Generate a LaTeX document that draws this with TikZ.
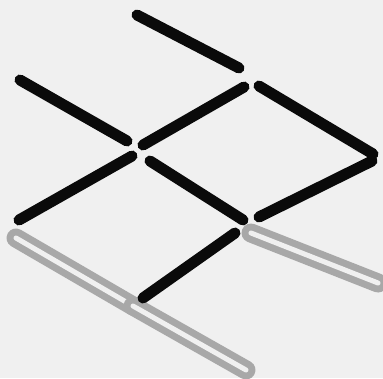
\documentclass[tikz,border=0pt]{standalone}
\usepackage{tikz}
\usepackage{xcolor}
\definecolor{paper}{HTML}{F0F0F0}
\definecolor{inkblack}{HTML}{0A0A0A}
\definecolor{pencil}{HTML}{A8A8A8}

\begin{document}
\begin{tikzpicture}[x=1pt, y=-1pt,
    stick/.style={line width=11pt, line cap=round, inkblack},
    ghost/.style={line width=7pt, line cap=round, draw=pencil,
                  double=paper, double distance=5pt}]
      % paper
      \fill[paper] (0,0) rectangle (383,378);
      \useasboundingbox (0,0) rectangle (383,378);

      % removed sticks, only their outlines left
      \draw[ghost] (16,238) -- (133,306);
      \draw[ghost] (133,306) -- (246,370);
      \draw[ghost] (251,233) -- (378,283);

      % the sticks still lying there
      \draw[stick] (137,15) -- (239,68);
      \draw[stick] (20,80) -- (127,141);
      \draw[stick] (143,145) -- (244,87);
      \draw[stick] (259,86) -- (373,154);
      \draw[stick] (132,156) -- (19,220);
      \draw[stick] (150,161) -- (243,220);
      \draw[stick] (259,217) -- (372,161);
      \draw[stick] (235,233) -- (143,298);
    \end{tikzpicture}
\end{document}
